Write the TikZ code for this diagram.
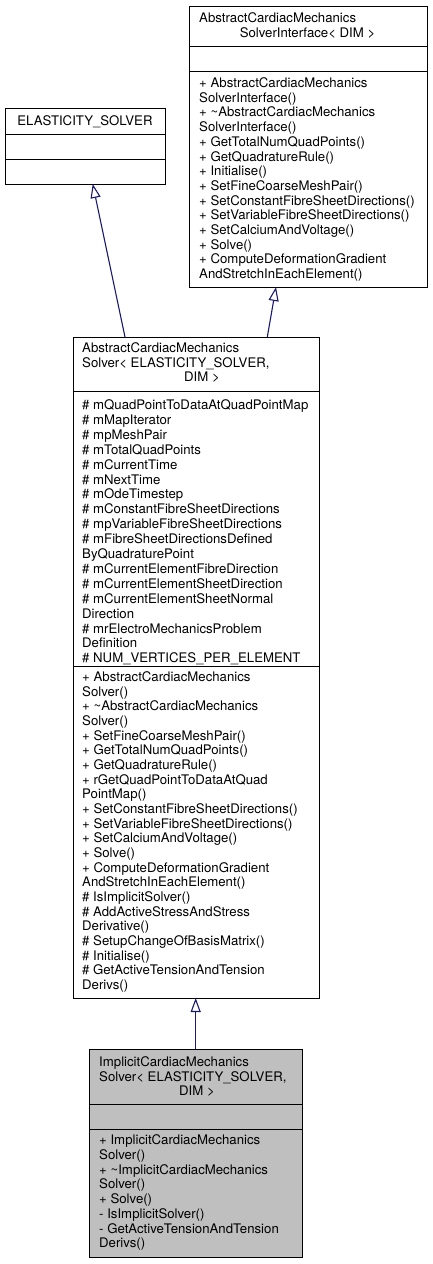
\documentclass[tikz,border=0pt]{standalone}
\usepackage{fontspec}
\setmainfont{TeX Gyre Heros}
\usetikzlibrary{arrows.meta}
\definecolor{edgeblue}{HTML}{191970}
\definecolor{boxgray}{HTML}{BFBFBF}
\tikzset{
  box/.style={draw=black, line width=1pt, rectangle, inner sep=0pt, anchor=north west},
  sep/.style={draw=black, line width=1pt},
  txt/.style={inner sep=0pt, anchor=base west, font=\fontsize{13.2}{14.7}\selectfont},
  ctxt/.style={inner sep=0pt, anchor=base, font=\fontsize{13.2}{14.7}\selectfont},
  inh/.style={draw=edgeblue, line width=1.1pt, -{Triangle[open, length=14pt, width=10pt, line width=1.1pt]}},
}
\begin{document}
\begin{tikzpicture}[x=1pt,y=1pt]
\useasboundingbox (0,0) rectangle (432,-1264);
% ---- Box A: ELASTICITY_SOLVER
\node[box, minimum width=160pt, minimum height=76pt] (a) at (5,-108) {};
\draw[sep] (5,-134) -- (165,-134);
\draw[sep] (5,-159) -- (165,-159);
\node[ctxt] (at1) at (85,-125.5) {ELASTICITY\_SOLVER};
% ---- Box B: interface
\node[box, minimum width=238pt, minimum height=281pt] (b) at (189,-6) {};
\draw[sep] (189,-46) -- (427,-46);
\draw[sep] (189,-71) -- (427,-71);
\node[txt] (bt1) at (199,-22) {AbstractCardiacMechanics};
\node[ctxt] (bt2) at (307.5,-37) {SolverInterface< DIM >};
\foreach \t [count=\i from 0] in {%
 + AbstractCardiacMechanics, SolverInterface(), + \textasciitilde AbstractCardiacMechanics, SolverInterface(),
 + GetTotalNumQuadPoints(), + GetQuadratureRule(), + Initialise(), + SetFineCoarseMeshPair(),
 + SetConstantFibreSheetDirections(), + SetVariableFibreSheetDirections(), + SetCalciumAndVoltage(),
 + Solve(), + ComputeDeformationGradient, AndStretchInEachElement()}
 \node[txt] (bm\i) at (199,-87.5-14.7*\i) {\t};
% ---- Box C: AbstractCardiacMechanicsSolver
\node[box, minimum width=246pt, minimum height=661pt] (c) at (73,-337) {};
\draw[sep] (73,-391) -- (319,-391);
\draw[sep] (73,-666) -- (319,-666);
\node[txt] (ct1) at (82,-352.5) {AbstractCardiacMechanics};
\node[txt] (ct2) at (82,-367.2) {Solver< ELASTICITY\_SOLVER,};
\node[ctxt] (ct3) at (202,-381.9) {DIM >};
\foreach \t [count=\i from 0] in {%
 \# mQuadPointToDataAtQuadPointMap, \# mMapIterator, \# mpMeshPair, \# mTotalQuadPoints,
 \# mCurrentTime, \# mNextTime, \# mOdeTimestep, \# mConstantFibreSheetDirections,
 \# mpVariableFibreSheetDirections, \# mFibreSheetDirectionsDefined, ByQuadraturePoint,
 \# mCurrentElementFibreDirection, \# mCurrentElementSheetDirection, \# mCurrentElementSheetNormal,
 Direction, \# mrElectroMechanicsProblem, Definition, \# NUM\_VERTICES\_PER\_ELEMENT}
 \node[txt] (ca\i) at (82,-409.5-14.9*\i) {\t};
\foreach \t [count=\i from 0] in {%
 + AbstractCardiacMechanics, Solver(), + \textasciitilde AbstractCardiacMechanics, Solver(),
 + SetFineCoarseMeshPair(), + GetTotalNumQuadPoints(), + GetQuadratureRule(),
 + rGetQuadPointToDataAtQuad, PointMap(), + SetConstantFibreSheetDirections(),
 + SetVariableFibreSheetDirections(), + SetCalciumAndVoltage(), + Solve(),
 + ComputeDeformationGradient, AndStretchInEachElement(), \# IsImplicitSolver(),
 \# AddActiveStressAndStress, Derivative(), \# SetupChangeOfBasisMatrix(), \# Initialise(),
 \# GetActiveTensionAndTension, Derivs()}
 \node[txt] (cm\i) at (82,-681.5-14.67*\i) {\t};
% ---- Box D: ImplicitCardiacMechanicsSolver
\node[box, fill=boxgray, minimum width=213pt, minimum height=208pt] (d) at (89,-1049) {};
\draw[sep] (89,-1104) -- (302,-1104);
\draw[sep] (89,-1129) -- (302,-1129);
\node[txt] (dt1) at (99,-1066.5) {ImplicitCardiacMechanics};
\node[txt] (dt2) at (99,-1081.2) {Solver< ELASTICITY\_SOLVER,};
\node[ctxt] (dt3) at (197,-1095.9) {DIM >};
\foreach \t [count=\i from 0] in {%
 + ImplicitCardiacMechanics, Solver(), + \textasciitilde ImplicitCardiacMechanics, Solver(),
 + Solve(), - IsImplicitSolver(), - GetActiveTensionAndTension, Derivs()}
 \node[txt] (dm\i) at (99,-1144.5-14.76*\i) {\t};
% ---- connectors
\coordinate (cA) at (125,-337);
\coordinate (aB) at (92.7,-184);
\coordinate (cB) at (267.3,-337);
\coordinate (bB) at (276,-287);
\coordinate (dT) at (195.7,-1049);
\coordinate (cBot) at (195.7,-998);
\draw[inh] (cA) -- (aB);
\draw[inh] (cB) -- (bB);
\draw[inh] (dT) -- (cBot);
\end{tikzpicture}
\end{document}
